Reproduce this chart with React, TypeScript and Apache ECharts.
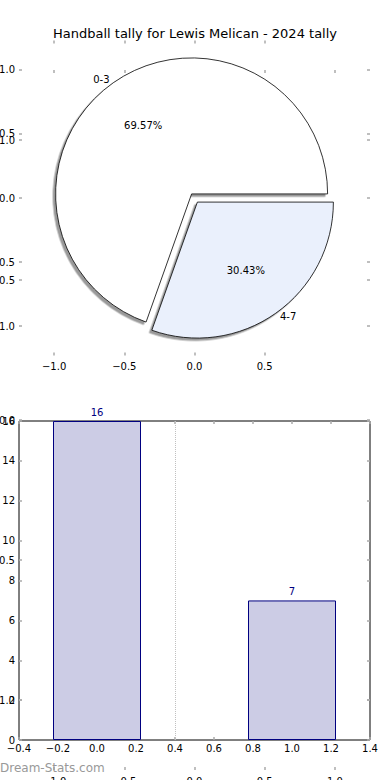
import React, { useEffect, useRef } from 'react';
import * as echarts from 'echarts';

const chartTitle = 'Handball tally for Lewis Melican - 2024 tally';
const pieCategories = ['0-3', '4-7'];
const pieValues = [16, 7];
const pieColors = ['#ffffff', '#eaf0fc'];
const barX = [0, 1];
const barValues = [16, 7];
const refLineX = [0.4];
const strayTicks = [-1, -0.5, 0, 0.5, 1];
const pieXTicks = [-1, -0.5, 0, 0.5];
const pieYTicks = [-1, -0.5, 0, 0.5, 1];
const watermark = 'Dream-Stats.com';

const FONT = 'DejaVu Sans';
const TICK = '#aaaaaa';

const fmt1 = (v: number) => (v < 0 ? '\u2212' : '') + Math.abs(v).toFixed(1);

function tickAxis(extra: any) {
  return {
    axisLine: { show: false, onZero: false },
    splitLine: { show: false },
    axisTick: { show: true, inside: true, length: 3, lineStyle: { color: TICK, width: 1.5 } },
    axisLabel: { show: false },
    ...extra,
  };
}

const ticks = (vals: number[]) => ({
  show: true, inside: true, length: 3, customValues: vals, lineStyle: { color: TICK, width: 1.5 },
});

export default function App() {
  const ref = useRef<HTMLDivElement>(null);
  useEffect(() => {
    if (!ref.current) return;
    const chart = echarts.init(ref.current, undefined, { renderer: 'svg' });
    const total = pieValues.reduce((a, b) => a + b, 0);
    const label = (extra: any = {}) => ({
      show: true, inside: false, color: '#000', fontFamily: FONT, fontSize: 10, ...extra,
    });
    const strayLabel = (vals: number[], margin: number) =>
      label({ customValues: vals, formatter: (v: number) => fmt1(v), margin });

    const pieBase = {
      type: 'pie',
      center: [194.5, 198],
      startAngle: 0,
      clockwise: false,
      selectedMode: 'multiple',
      selectedOffset: 5,
      animation: false,
      emphasis: { disabled: true },
      labelLine: { show: false },
    };

    const option: any = {
      animation: false,
      textStyle: { fontFamily: FONT },
      title: {
        text: chartTitle,
        left: 'center',
        top: 22,
        textStyle: { fontFamily: FONT, fontSize: 13, fontWeight: 'normal', color: '#000' },
      },
      grid: [
        { left: 19, top: 70, width: 351, height: 700, containLabel: false, outerBoundsMode: 'none' },
        { left: 19, top: 40.5, width: 351, height: 315, containLabel: false, outerBoundsMode: 'none' },
        { left: 19, top: 421, width: 351, height: 319, containLabel: false, outerBoundsMode: 'none',
          show: true, borderColor: '#000', borderWidth: 1, backgroundColor: 'transparent' },
      ],
      xAxis: [
        tickAxis({ type: 'value', gridIndex: 0, position: 'bottom', min: -1.25, max: 1.25,
          axisTick: ticks(strayTicks), axisLabel: strayLabel(strayTicks, 6) }),
        tickAxis({ type: 'value', gridIndex: 0, position: 'top', min: -1.25, max: 1.25,
          axisTick: ticks(strayTicks) }),
        tickAxis({ type: 'value', gridIndex: 1, position: 'bottom', min: -1.25, max: 1.25,
          axisTick: ticks(pieXTicks), axisLabel: strayLabel(pieXTicks, 6) }),
        tickAxis({ type: 'value', gridIndex: 1, position: 'top', min: -1.25, max: 1.25,
          axisTick: ticks(pieXTicks) }),
        tickAxis({ type: 'value', gridIndex: 2, position: 'bottom', min: -0.4, max: 1.4, interval: 0.2,
          axisLabel: label({ formatter: (v: number) => fmt1(v), margin: 3, showMinLabel: true, showMaxLabel: true }) }),
        tickAxis({ type: 'value', gridIndex: 2, position: 'top', min: -0.4, max: 1.4, interval: 0.2 }),
      ],
      yAxis: [
        tickAxis({ type: 'value', gridIndex: 0, position: 'left', min: -1.25, max: 1.25,
          axisTick: ticks(strayTicks), axisLabel: strayLabel(strayTicks, 4) }),
        tickAxis({ type: 'value', gridIndex: 0, position: 'right', min: -1.25, max: 1.25,
          axisTick: ticks(strayTicks) }),
        tickAxis({ type: 'value', gridIndex: 1, position: 'left', min: -1.23, max: 1.23,
          axisTick: ticks(pieYTicks), axisLabel: strayLabel(pieYTicks, 4) }),
        tickAxis({ type: 'value', gridIndex: 1, position: 'right', min: -1.23, max: 1.23,
          axisTick: ticks(pieYTicks) }),
        tickAxis({ type: 'value', gridIndex: 2, position: 'left', min: 0, max: 16, interval: 2,
          axisLabel: label({ margin: 4 }) }),
        tickAxis({ type: 'value', gridIndex: 2, position: 'right', min: 0, max: 16, interval: 2 }),
      ],
      graphic: [
        {
          type: 'text', left: 0, top: 762, z: 50,
          style: { text: watermark, fill: '#999999', font: `12px "${FONT}"` },
        },
      ],
      series: [
        {
          type: 'bar',
          xAxisIndex: 4,
          yAxisIndex: 4,
          barWidth: 88,
          data: barX.map((x, i) => [x, barValues[i]]),
          itemStyle: { color: '#ccccE5', borderColor: '#000080', borderWidth: 1 },
          label: { show: true, position: 'top', distance: 4, color: '#000080', fontFamily: FONT, fontSize: 10 },
          emphasis: { disabled: true },
          markLine: {
            silent: true,
            symbol: 'none',
            label: { show: false },
            lineStyle: { color: '#c0c0c0', type: 'dotted', width: 1 },
            data: refLineX.map((x) => ({ xAxis: x })),
          },
        },
        {
          ...pieBase,
          radius: 136,
          label: { show: false },
          itemStyle: {
            borderColor: '#000', borderWidth: 0.8,
            shadowBlur: 1, shadowOffsetX: -2.5, shadowOffsetY: 2.5, shadowColor: 'rgba(0,0,0,0.4)',
          },
          data: pieCategories.map((n, i) => ({
            name: n, value: pieValues[i], selected: true, itemStyle: { color: pieColors[i] },
          })),
        },
        {
          ...pieBase,
          silent: true,
          radius: [61, 101],
          itemStyle: { color: 'rgba(0,0,0,0)', borderWidth: 0 },
          label: {
            show: true, position: 'inside', color: '#000', fontFamily: FONT, fontSize: 10,
            formatter: (p: any) => ((p.value / total) * 100).toFixed(2) + '%',
          },
          data: pieCategories.map((n, i) => ({ name: n, value: pieValues[i], selected: true })),
        },
        {
          ...pieBase,
          silent: true,
          radius: [127, 147],
          itemStyle: { color: 'rgba(0,0,0,0)', borderWidth: 0 },
          label: { show: true, position: 'inside', color: '#000', fontFamily: FONT, fontSize: 10, formatter: '{b}' },
          data: pieCategories.map((n, i) => ({
            name: n, value: pieValues[i], selected: true,
            label: i === 0 ? { align: 'right', padding: [0, 19, 0, 0] } : { align: 'left', padding: [0, 0, 0, 20] },
          })),
        },
      ],
    };
    chart.setOption(option);
    return () => chart.dispose();
  }, []);
  return (
    <div
      ref={ref}
      style={{ position: 'fixed', left: 0, top: 0, width: 390, height: 780, background: '#fff' }}
    />
  );
}
